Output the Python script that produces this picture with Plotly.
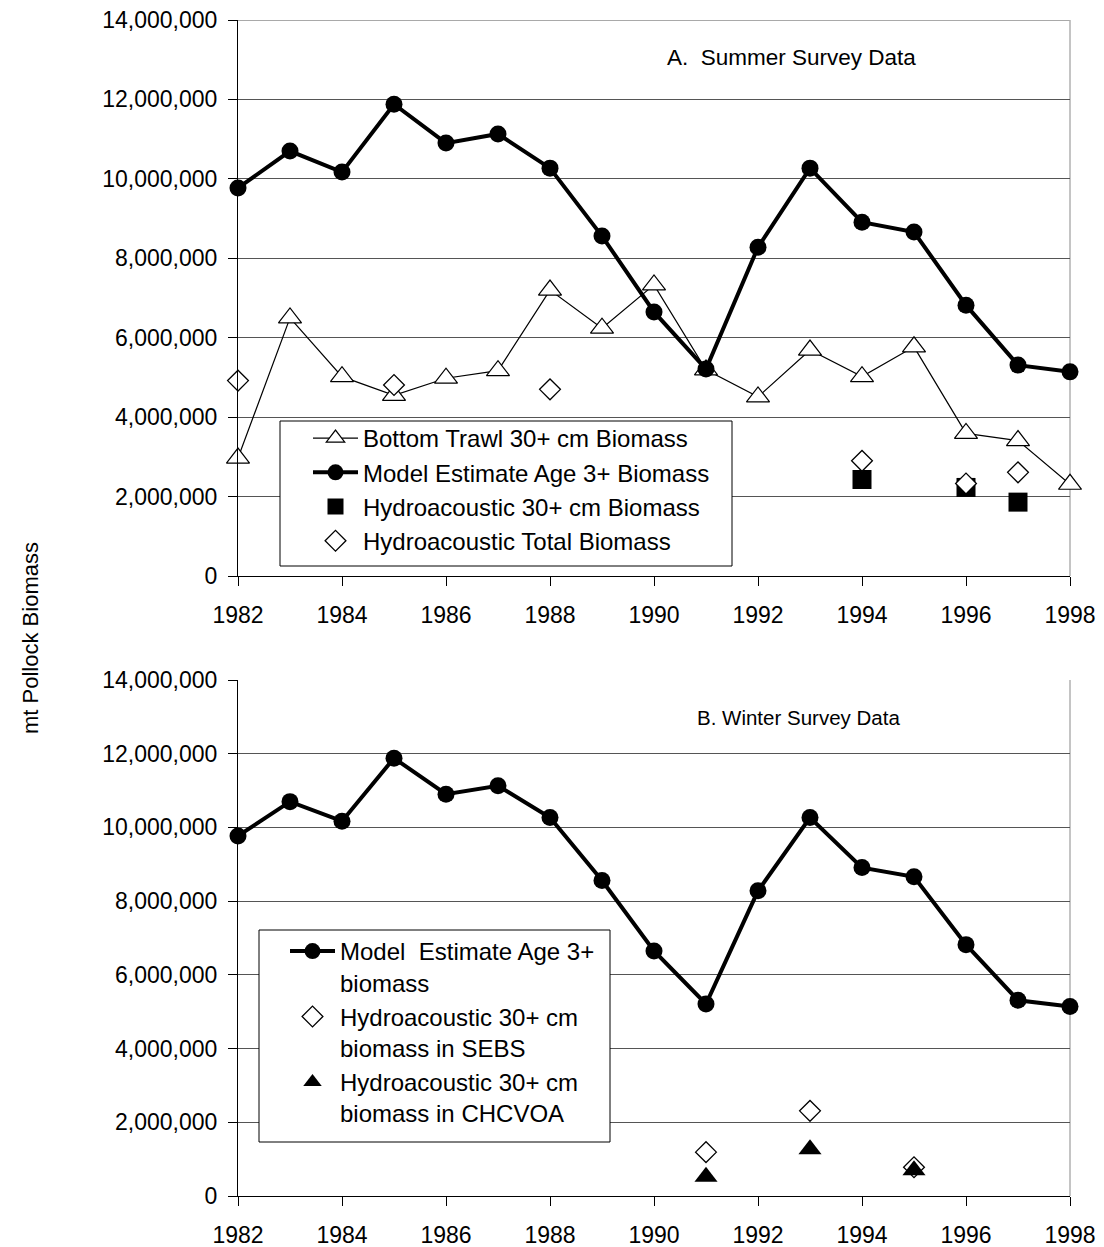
import plotly.graph_objects as go
from plotly.subplots import make_subplots

years = list(range(1982, 1999))
model_biomass = [9770000, 10700000, 10170000, 11880000, 10900000, 11130000, 10270000,
                 8560000, 6650000, 5210000, 8280000, 10270000, 8910000, 8660000,
                 6820000, 5310000, 5140000]
trawl_biomass = [2970000, 6500000, 5020000, 4550000, 4980000, 5170000, 7200000,
                 6240000, 7330000, 5190000, 4510000, 5690000, 5020000, 5770000,
                 3590000, 3410000, 2310000]
hydro30_years = [1994, 1996, 1997]
hydro30_biomass = [2430000, 2230000, 1860000]
hydro_total_years = [1982, 1985, 1988, 1994, 1996, 1997]
hydro_total_biomass = [4920000, 4810000, 4700000, 2900000, 2330000, 2610000]
winter_years = [1991, 1993, 1995]
sebs_biomass = [1190000, 2310000, 780000]
chcvoa_biomass = [520000, 1270000, 700000]
y_max = 14000000

FONT = "Liberation Sans, Arial, sans-serif"

# screen-pixel helpers (page body has an 8px margin)
PX0, PX1, PY0, PY1 = 238, 1070, 20, 1196


def px(X):
    return (X - PX0) / (PX1 - PX0)


def py(Y):
    return (PY1 - Y) / (PY1 - PY0)


fig = make_subplots(rows=2, cols=1)

# Panel A
fig.add_trace(go.Scatter(
    x=years, y=trawl_biomass, mode="lines+markers",
    name="Bottom Trawl 30+ cm Biomass",
    line=dict(color="black", width=1.2),
    marker=dict(symbol="triangle-up", size=20, color="white", line=dict(color="black", width=1.2)),
    legend="legend", legendgroup="a1", cliponaxis=False), row=1, col=1)
fig.add_trace(go.Scatter(
    x=years, y=model_biomass, mode="lines+markers",
    name="Model Estimate Age 3+ Biomass",
    line=dict(color="black", width=4),
    marker=dict(symbol="circle", size=17, color="black"),
    legend="legend", legendgroup="a2", cliponaxis=False), row=1, col=1)
fig.add_trace(go.Scatter(
    x=hydro30_years, y=hydro30_biomass, mode="markers",
    name="Hydroacoustic 30+ cm Biomass",
    marker=dict(symbol="square", size=19, color="black"),
    legend="legend", legendgroup="a3", cliponaxis=False), row=1, col=1)
fig.add_trace(go.Scatter(
    x=hydro_total_years, y=hydro_total_biomass, mode="markers",
    name="Hydroacoustic Total Biomass",
    marker=dict(symbol="diamond", size=16, color="white", line=dict(color="black", width=1.3)),
    legend="legend", legendgroup="a4", cliponaxis=False), row=1, col=1)

# Panel B
fig.add_trace(go.Scatter(
    x=years, y=model_biomass, mode="lines+markers",
    name="Model  Estimate Age 3+<br>biomass",
    line=dict(color="black", width=4),
    marker=dict(symbol="circle", size=17, color="black"),
    legend="legend2", legendgroup="b1", cliponaxis=False), row=2, col=1)
fig.add_trace(go.Scatter(
    x=winter_years, y=sebs_biomass, mode="markers",
    name="Hydroacoustic 30+ cm<br>biomass in SEBS",
    marker=dict(symbol="diamond", size=16, color="white", line=dict(color="black", width=1.3)),
    legend="legend2", legendgroup="b2", cliponaxis=False), row=2, col=1)
fig.add_trace(go.Scatter(
    x=winter_years, y=chcvoa_biomass, mode="markers",
    name="Hydroacoustic 30+ cm<br>biomass in CHCVOA",
    marker=dict(symbol="triangle-up", size=20, color="black"),
    legend="legend2", legendgroup="b3", cliponaxis=False), row=2, col=1)

xaxis_style = dict(range=[1982, 1998], tickmode="linear", tick0=1982, dtick=2,
                   showgrid=False, zeroline=False, showline=True, linecolor="black",
                   linewidth=1, ticks="outside", ticklen=9, tickcolor="black",
                   tickfont=dict(family=FONT, size=23, color="black"),
                   ticklabelstandoff=9, automargin=False, ticklabeloverflow="allow")
yaxis_style = dict(range=[0, y_max], tickmode="linear", tick0=0, dtick=2000000,
                   tickformat=",d", showgrid=True, gridcolor="#555555", gridwidth=1,
                   zeroline=False, showline=True, linecolor="black", linewidth=1,
                   ticks="outside", ticklen=9, tickcolor="black",
                   tickfont=dict(family=FONT, size=23, color="black"),
                   ticklabelstandoff=6, automargin=False, ticklabeloverflow="allow")

fig.update_xaxes(**xaxis_style)
fig.update_yaxes(**yaxis_style)
fig.update_layout(
    xaxis=dict(domain=[0, 1]), xaxis2=dict(domain=[0, 1]),
    yaxis=dict(domain=[py(576), 1.0]),
    yaxis2=dict(domain=[0.0, py(680)]),
)

legend_common = dict(
    bgcolor="rgba(0,0,0,0)", borderwidth=0,
    font=dict(family=FONT, size=24, color="black"),
    xanchor="left", yanchor="top", itemwidth=45,
    valign="top", traceorder="normal",
)

fig.update_layout(
    width=1096, height=1239,
    margin=dict(l=230, r=34, t=12, b=51, autoexpand=False),
    paper_bgcolor="white", plot_bgcolor="white",
    font=dict(family=FONT, color="black"),
    legend=dict(x=px(308), y=py(416), tracegroupgap=7, **legend_common),
    legend2=dict(x=px(285), y=py(929), tracegroupgap=11, **legend_common),
    showlegend=True,
)

# top gridline of panel A (at the edge of the plot area)
fig.add_shape(type="line", xref="x domain", yref="y", x0=0, x1=1, y0=y_max, y1=y_max,
              line=dict(color="#555555", width=1), layer="below")

# legend boxes
fig.add_shape(type="rect", xref="paper", yref="paper",
              x0=px(280), x1=px(732), y0=py(566), y1=py(421),
              line=dict(color="black", width=1), fillcolor="white", layer="above")
fig.add_shape(type="rect", xref="paper", yref="paper",
              x0=px(259), x1=px(610), y0=py(1142), y1=py(930),
              line=dict(color="black", width=1), fillcolor="white", layer="above")

# right border (light gray) of each plot area
for xr, yr in [("x domain", "y domain"), ("x2 domain", "y2 domain")]:
    fig.add_shape(type="line", xref=xr, yref=yr, x0=1, x1=1, y0=0, y1=1,
                  line=dict(color="#b0b0b0", width=1.5), layer="below")

fig.add_annotation(text="A.  Summer Survey Data", xref="paper", yref="paper",
                   x=px(791), y=py(58), showarrow=False,
                   font=dict(family=FONT, size=22.5, color="black"),
                   xanchor="center", yanchor="middle")
fig.add_annotation(text="B. Winter Survey Data", xref="paper", yref="paper",
                   x=px(798), y=py(717), showarrow=False,
                   font=dict(family=FONT, size=20.5, color="black"),
                   xanchor="center", yanchor="middle")
fig.add_annotation(text="mt Pollock Biomass", xref="paper", yref="paper",
                   x=px(30), y=py(638), showarrow=False,
                   textangle=-90,
                   font=dict(family=FONT, size=22, color="black"),
                   xanchor="center", yanchor="middle")

fig.write_html("out.html")
